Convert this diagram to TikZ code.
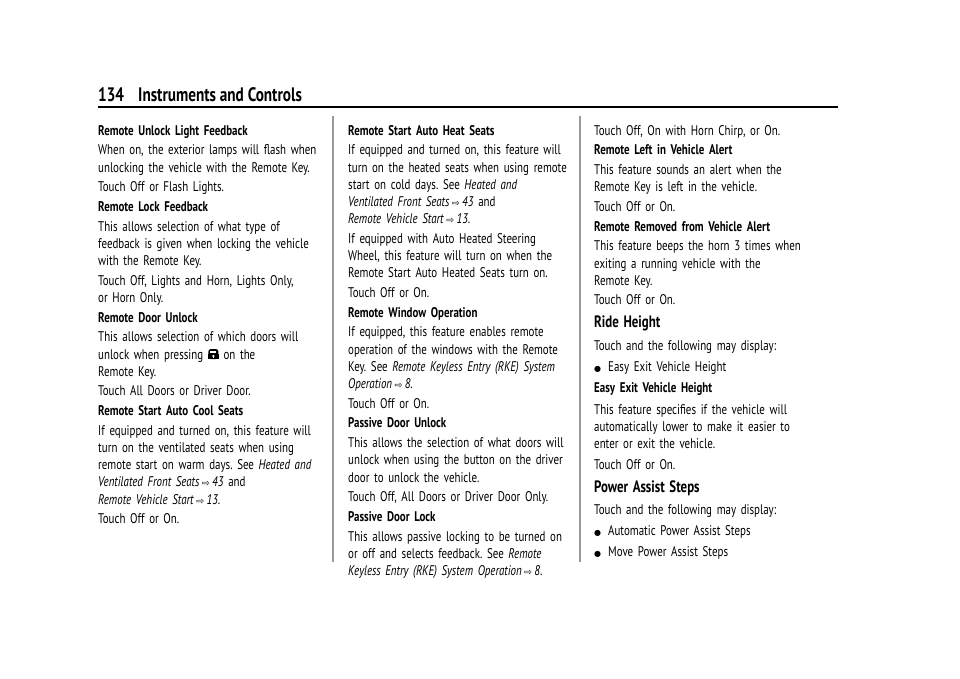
\documentclass[tikz,border=0pt]{standalone}
\usepackage{fontspec}
\setmainfont{PT Sans}[FakeStretch=0.78]
\newfontfamily\symf{DejaVu Sans}
\newcommand{\pgref}[1]{\,{\symf\fontsize{9.5}{9}\selectfont ⇨}\,\textit{#1}}
\newcommand{\lockicon}{\tikz[baseline=0pt]{\fill[rounded corners=2.5pt] (0,0) -- (0,10pt) -- (10pt,10pt) -- (10pt,0) -- cycle; \fill (-0.5pt,0) rectangle (10.5pt,5.5pt); \fill[white] (2pt,6pt) rectangle (8pt,7.8pt); \fill[white] (5pt,3.1pt) circle (1.2pt); \fill[white] (4.4pt,1pt) rectangle (5.6pt,3pt);}}
\newcommand{\hd}[1]{\textbf{#1}\par}
\newcommand{\bhd}[1]{\vspace{3pt}{\fontsize{16.5}{18}\selectfont\textbf{#1}}\par\vspace{3pt}}
\newcommand{\bul}[1]{\makebox[14pt][l]{\symf\fontsize{8}{8}\selectfont ●}#1\par}
\begin{document}
\begin{tikzpicture}[x=1pt,y=-1pt,
  col/.style={anchor=north west,inner sep=0pt,text width=245pt,align=left,
    font=\fontsize{14}{17.2}\selectfont\frenchspacing},
  sep/.style={draw=gray!80,line width=1.4pt}]
\useasboundingbox (0,0) rectangle (960,678);
\node[anchor=base west,inner sep=0pt,font=\fontsize{19.5}{20}\selectfont\bfseries] (pg) at (98,101) {134};
\node[anchor=base west,inner sep=0pt,font=\fontsize{19.5}{20}\selectfont\bfseries] (title) at (138,101) {Instruments and Controls};
\draw[line width=1.3pt] (98,107) coordinate (r1) -- (838,107) coordinate (r2);
\draw[sep] (333,116) coordinate (s1a) -- (333,562) coordinate (s1b);
\draw[sep] (580,116) coordinate (s2a) -- (580,562) coordinate (s2b);
\node[col] (c1) at (98,125) {\setlength{\parskip}{2.5pt}%
\hd{Remote Unlock Light Feedback}
When on, the exterior lamps will flash when\\unlocking the vehicle with the Remote Key.\par
Touch Off or Flash Lights.\par
\hd{Remote Lock Feedback}
This allows selection of what type of\\feedback is given when locking the vehicle\\with the Remote Key.\par
Touch Off, Lights and Horn, Lights Only,\\or Horn Only.\par
\hd{Remote Door Unlock}
This allows selection of which doors will\\unlock when pressing \lockicon\ on the\\Remote Key.\par
Touch All Doors or Driver Door.\par
\hd{Remote Start Auto Cool Seats}
If equipped and turned on, this feature will\\turn on the ventilated seats when using\\remote start on warm days. See \textit{Heated and}\\\textit{Ventilated Front Seats}\pgref{43} and\\\textit{Remote Vehicle Start}\pgref{13}.\par
Touch Off or On.\par};
\node[col] (c2) at (348,125) {\setlength{\parskip}{2.5pt}%
\hd{Remote Start Auto Heat Seats}
If equipped and turned on, this feature will\\turn on the heated seats when using remote\\start on cold days. See \textit{Heated and}\\\textit{Ventilated Front Seats}\pgref{43} and\\\textit{Remote Vehicle Start}\pgref{13}.\par
If equipped with Auto Heated Steering\\Wheel, this feature will turn on when the\\Remote Start Auto Heated Seats turn on.\par
Touch Off or On.\par
\hd{Remote Window Operation}
If equipped, this feature enables remote\\operation of the windows with the Remote\\Key. See \textit{Remote Keyless Entry (RKE) System}\\\textit{Operation}\pgref{8}.\par
Touch Off or On.\par
\hd{Passive Door Unlock}
This allows the selection of what doors will\\unlock when using the button on the driver\\door to unlock the vehicle.\par
Touch Off, All Doors or Driver Door Only.\par
\hd{Passive Door Lock}
This allows passive locking to be turned on\\or off and selects feedback. See \textit{Remote}\\\textit{Keyless Entry (RKE) System Operation}\pgref{8}.\par};
\node[col] (c3) at (594,125) {\setlength{\parskip}{2.5pt}%
Touch Off, On with Horn Chirp, or On.\par
\hd{Remote Left in Vehicle Alert}
This feature sounds an alert when the\\Remote Key is left in the vehicle.\par
Touch Off or On.\par
\hd{Remote Removed from Vehicle Alert}
This feature beeps the horn 3 times when\\exiting a running vehicle with the\\Remote Key.\par
Touch Off or On.\par
\bhd{Ride Height}
Touch and the following may display:\par\vspace{1pt}
\bul{Easy Exit Vehicle Height}\vspace{2pt}
\hd{Easy Exit Vehicle Height}\vspace{2pt}
This feature specifies if the vehicle will\\automatically lower to make it easier to\\enter or exit the vehicle.\par\vspace{1pt}
Touch Off or On.\par
\bhd{Power Assist Steps}
Touch and the following may display:\par\vspace{1pt}
\bul{Automatic Power Assist Steps}\vspace{1pt}
\bul{Move Power Assist Steps}};
\end{tikzpicture}
\end{document}
